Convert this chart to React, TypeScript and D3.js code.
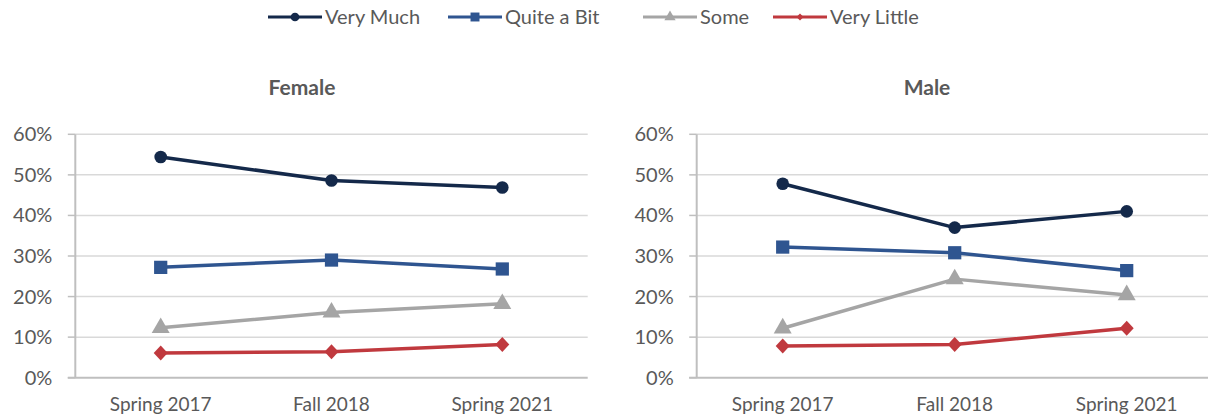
import React, {useEffect, useRef} from 'react';
import * as d3 from 'd3';

// categories and series (shares, 0-1)
const categories: string[] = ['Spring 2017', 'Fall 2018', 'Spring 2021'];
const yTicks: number[] = [0, 0.1, 0.2, 0.3, 0.4, 0.5, 0.6];

const femaleVeryMuch: number[] = [0.544, 0.486, 0.469];
const femaleQuiteABit: number[] = [0.272, 0.290, 0.268];
const femaleSome: number[] = [0.123, 0.161, 0.182];
const femaleVeryLittle: number[] = [0.061, 0.064, 0.082];

const maleVeryMuch: number[] = [0.478, 0.370, 0.410];
const maleQuiteABit: number[] = [0.322, 0.308, 0.264];
const maleSome: number[] = [0.122, 0.243, 0.204];
const maleVeryLittle: number[] = [0.078, 0.082, 0.122];

const seriesNames: string[] = ['Very Much', 'Quite a Bit', 'Some', 'Very Little'];
const seriesColors: string[] = ['#14294a', '#2f5590', '#a5a5a5', '#c0393e'];
const seriesShapes: string[] = ['circle', 'square', 'triangle', 'diamond'];

const App = () => {
  const ref = useRef<SVGSVGElement>(null);

  useEffect(() => {
    drawChart();
    return () => {
      d3.select(ref.current).selectAll('*').remove();
    };
  }, []);

  const drawChart = () => {
    const svg = d3.select(ref.current);
    const font = 'Lato, Calibri, "Noto Sans", sans-serif';
    const textColor = '#595959';

    // marker symbols, big ones on the plot and small ones in the legend
    const symbolFor = (shape: string, big: boolean) => {
      if (shape === 'circle') return d3.symbol(d3.symbolCircle, big ? 125 : 60)();
      if (shape === 'square') return d3.symbol(d3.symbolSquare, big ? 175 : 80)();
      if (shape === 'triangle') return d3.symbol(d3.symbolTriangle, big ? 140 : 55)();
      return big
        ? 'M0,-7.5L7,0L0,7.5L-7,0Z'
        : 'M0,-3.5L3.5,0L0,3.5L-3.5,0Z';
    };

    // legend
    const legendX = [268, 448, 643, 773];
    const legend = svg.append('g');
    seriesNames.forEach((name, i) => {
      const g = legend.append('g').attr('transform', `translate(${legendX[i]},17)`);
      g.append('line')
        .attr('x1', 0).attr('x2', 54)
        .attr('stroke', seriesColors[i])
        .attr('stroke-width', 3);
      g.append('path')
        .attr('d', symbolFor(seriesShapes[i], false))
        .attr('transform', `translate(27,0)`)
        .attr('fill', seriesColors[i]);
      g.append('text')
        .attr('x', 57)
        .attr('y', 6.5)
        .attr('fill', textColor)
        .style('font-family', font)
        .style('font-size', '20px')
        .text(name);
    });

    const panels = [
      {title: 'Female', titleX: 302, left: 75.3, right: 587.7,
        data: [femaleVeryMuch, femaleQuiteABit, femaleSome, femaleVeryLittle]},
      {title: 'Male', titleX: 927, left: 696.7, right: 1212.7,
        data: [maleVeryMuch, maleQuiteABit, maleSome, maleVeryLittle]},
    ];

    const y = d3.scaleLinear().domain([0, 0.6]).range([377.7, 134.3]);

    panels.forEach(p => {
      const x = d3.scalePoint<string>().domain(categories).range([p.left, p.right]).padding(0.5);
      const g = svg.append('g');

      g.append('text')
        .attr('x', p.titleX)
        .attr('y', 95)
        .attr('text-anchor', 'middle')
        .attr('fill', textColor)
        .style('font-family', font)
        .style('font-weight', 'bold')
        .style('font-size', '21px')
        .text(p.title);

      // gridlines
      g.selectAll('.grid')
        .data(yTicks.slice(1))
        .enter().append('line')
        .attr('x1', p.left).attr('x2', p.right)
        .attr('y1', d => y(d)).attr('y2', d => y(d))
        .attr('stroke', '#d9d9d9')
        .attr('stroke-width', 1.5);

      // tick marks
      g.selectAll('.tick')
        .data(yTicks)
        .enter().append('line')
        .attr('x1', p.left - 7.5).attr('x2', p.left)
        .attr('y1', d => y(d)).attr('y2', d => y(d))
        .attr('stroke', '#bfbfbf')
        .attr('stroke-width', 1.5);

      // axes
      g.append('line')
        .attr('x1', p.left).attr('x2', p.left)
        .attr('y1', y(0.6)).attr('y2', y(0))
        .attr('stroke', '#bfbfbf').attr('stroke-width', 2);
      g.append('line')
        .attr('x1', p.left - 7.5).attr('x2', p.right)
        .attr('y1', y(0)).attr('y2', y(0))
        .attr('stroke', '#bfbfbf').attr('stroke-width', 2);

      // y labels
      g.selectAll('.ylab')
        .data(yTicks)
        .enter().append('text')
        .attr('x', p.left - 23)
        .attr('y', d => y(d) + 7)
        .attr('text-anchor', 'end')
        .attr('fill', textColor)
        .style('font-family', font)
        .style('font-size', '20px')
        .text(d => d3.format('.0%')(d));

      // x labels
      g.selectAll('.xlab')
        .data(categories)
        .enter().append('text')
        .attr('x', d => x(d) as number)
        .attr('y', 410.5)
        .attr('text-anchor', 'middle')
        .attr('fill', textColor)
        .style('font-family', font)
        .style('font-size', '19px')
        .text(d => d);

      const line = d3.line<number>()
        .x((_, i) => x(categories[i]) as number)
        .y(d => y(d));

      p.data.forEach((values, si) => {
        g.append('path')
          .attr('d', line(values))
          .attr('fill', 'none')
          .attr('stroke', seriesColors[si])
          .attr('stroke-width', 3.5)
          .attr('stroke-linejoin', 'round');
        g.selectAll(`.m${si}`)
          .data(values)
          .enter().append('path')
          .attr('d', symbolFor(seriesShapes[si], true))
          .attr('transform', (d, i) => `translate(${x(categories[i])},${y(d)})`)
          .attr('fill', seriesColors[si]);
      });
    });
  };

  return (
    <svg ref={ref} width={1208} height={420}
      style={{position: 'absolute', left: 0, top: 0, background: '#fff'}} />
  );
};

export default App;
